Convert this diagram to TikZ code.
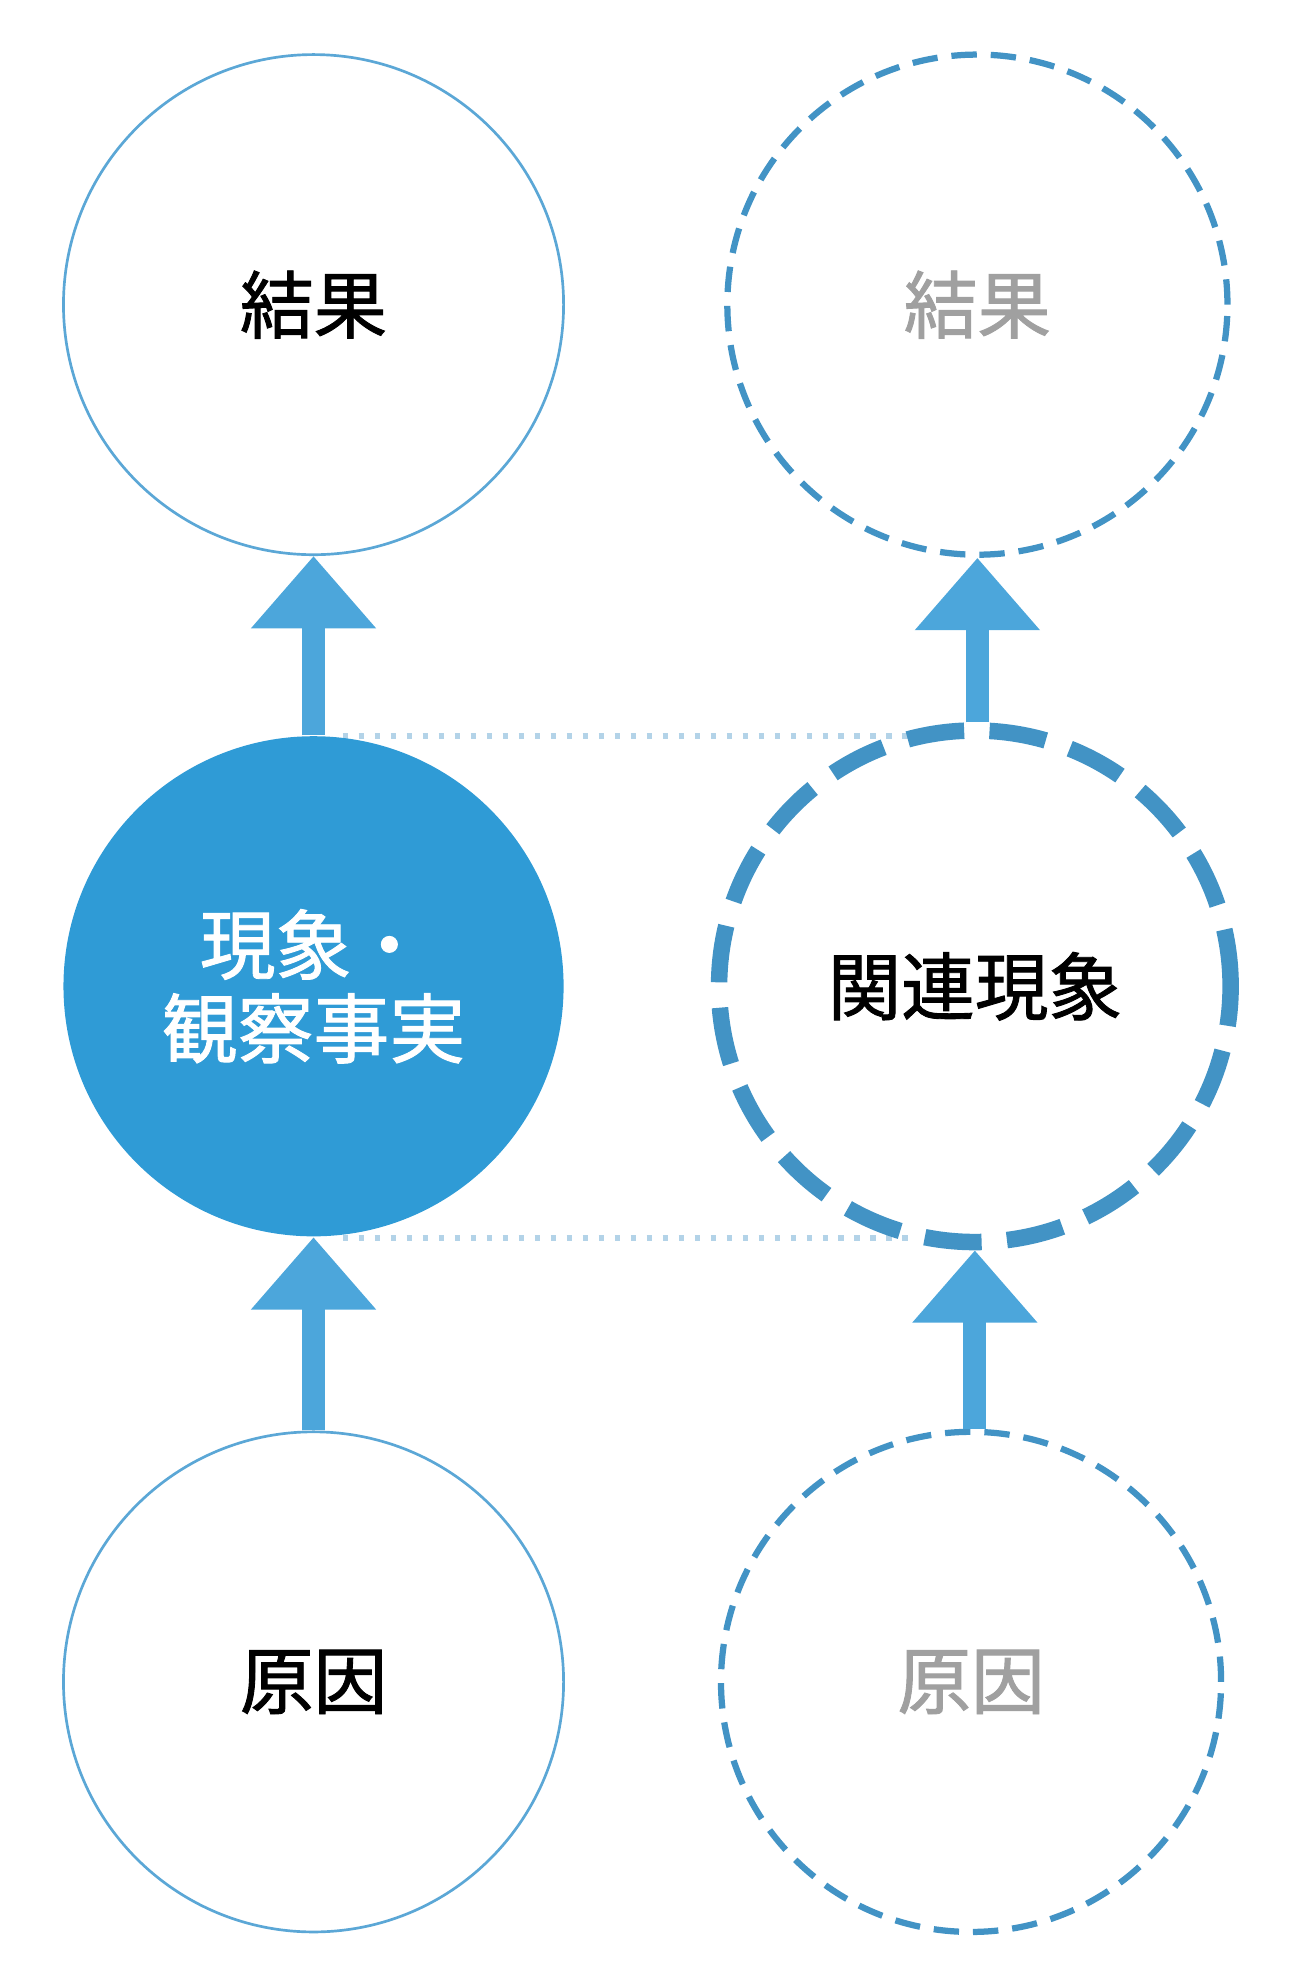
\documentclass[tikz,border=0pt]{standalone}
\usepackage{fontspec}
\setmainfont{Noto Sans CJK JP}[FakeBold=1.2]
\usetikzlibrary{arrows.meta}

\definecolor{ringblue}{HTML}{5BA7D6}
\definecolor{fillblue}{HTML}{2F9BD6}
\definecolor{arrowblue}{HTML}{4CA6DB}
\definecolor{dashblue}{HTML}{4293C5}
\definecolor{dotblue}{HTML}{B3D3E8}
\definecolor{greytext}{HTML}{A0A0A0}

\tikzset{
	ring/.style={circle,minimum size=3.94cm,inner sep=0pt,fill=white,font=\fontsize{16.5}{19}\selectfont},
	solidring/.style={ring,draw=ringblue,line width=0.6pt},
	dashring/.style={ring,draw=dashblue,line width=1.4pt,dash pattern=on 0.2cm off 0.11cm,text=greytext},
	thickring/.style={ring,draw=dashblue,line width=3.7pt,dash pattern=on 0.45cm off 0.2cm},
	upstep/.style={arrowblue,line width=0.18cm,-{Triangle[length=0.57cm,width=0.95cm]}},
	guide/.style={dotblue,line width=1.3pt,dash pattern=on 0.04cm off 0.086cm}
}

\begin{document}
\begin{tikzpicture}

	\useasboundingbox (0,0) rectangle (10.24,15.63);

	% dotted guides first, circles cover them
	\coordinate (g1) at (2.70,9.83);
	\coordinate (g2) at (7.20,9.83);
	\coordinate (g3) at (2.70,5.88);
	\coordinate (g4) at (7.20,5.88);
	\draw[guide] (g1) -- (g2);
	\draw[guide] (g3) -- (g4);

	\node[solidring] (res) at (2.47,13.23) {結果};
	\node[ring,fill=fillblue,text=white,font=\fontsize{17}{18.8}\selectfont,align=center] (obs) at (2.47,7.86) {現象・\\観察事実};
	\node[solidring] (cau) at (2.47,2.38) {原因};

	\node[dashring] (res2) at (7.70,13.23) {結果};
	\node[thickring,minimum size=4.03cm] (rel) at (7.68,7.86) {関連現象};
	\node[dashring] (cau2) at (7.65,2.38) {原因};

	\draw[upstep] (obs.north) -- (res.south);
	\draw[upstep] (cau.north) -- (obs.south);
	\draw[upstep] (rel.north -| res2.south) -- (res2.south);
	\draw[upstep] (cau2.north -| rel.south) -- (rel.south);

\end{tikzpicture}
\end{document}
